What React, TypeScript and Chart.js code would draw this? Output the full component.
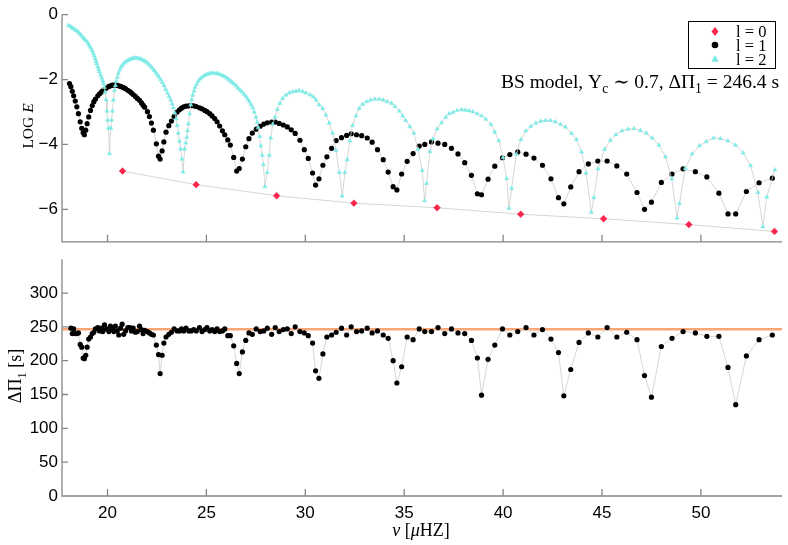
import { useEffect, useRef } from "react";
import { Chart, registerables, type ChartConfiguration, type Plugin } from "chart.js";

Chart.register(...registerables);

// fonts and colours
const SANS = "'Liberation Sans', Arial, Helvetica, sans-serif";
const SERIF = "'Liberation Serif', 'DejaVu Serif', 'Times New Roman', serif";
const AXIS = "#858585";
const LINK = "#cbcbcb";
const RED = "#f7264f";
const CYAN = "#7eeae6";
const ORANGE = "#f8a676";

// axes
const X_MIN = 17.7;
const X_MAX = 54.1;
const X_TICKS = [20, 25, 30, 35, 40, 45, 50];
const E_TICKS = [-6, -4, -2, 0];
const DP_TICKS = [0, 50, 100, 150, 200, 250, 300];
const DP_MEAN = 246.4;

// l=0 modes
const NU0 = [20.76, 24.48, 28.55, 32.46, 36.66, 40.89, 45.08, 49.39, 53.72];
const LOGE0 = [-4.82, -5.24, -5.58, -5.81, -5.95, -6.15, -6.29, -6.47, -6.68];

// l=1 modes (frequency, log E)
const NU1 = [
  18.08, 18.15, 18.22, 18.29, 18.37, 18.45, 18.53, 18.62, 18.70, 18.77,
  18.83, 18.90, 18.97, 19.05, 19.14, 19.23, 19.31, 19.39, 19.51, 19.60,
  19.70, 19.76, 19.85, 19.95, 20.07, 20.15, 20.24, 20.32, 20.40, 20.49,
  20.57, 20.66, 20.74, 20.82, 20.91, 21.03, 21.13, 21.21, 21.30, 21.41,
  21.51, 21.62, 21.72, 21.80, 21.88, 22.02, 22.12, 22.22, 22.32, 22.47,
  22.58, 22.66, 22.76, 22.85, 22.96, 23.10, 23.23, 23.37, 23.52, 23.64,
  23.74, 23.85, 23.97, 24.11, 24.23, 24.36, 24.49, 24.65, 24.78, 24.92,
  25.03, 25.17, 25.29, 25.42, 25.54, 25.67, 25.81, 25.93, 26.08, 26.21,
  26.38, 26.53, 26.66, 26.82, 26.99, 27.15, 27.32, 27.52, 27.72, 27.90,
  28.08, 28.30, 28.48, 28.68, 28.89, 29.09, 29.29, 29.49, 29.73, 29.95,
  30.15, 30.37, 30.52, 30.69, 30.89, 31.09, 31.33, 31.56, 31.83, 32.09,
  32.32, 32.59, 32.85, 33.13, 33.38, 33.65, 33.94, 34.19, 34.44, 34.63,
  34.87, 35.15, 35.45, 35.76, 36.04, 36.38, 36.71, 37.05, 37.39, 37.72,
  38.06, 38.40, 38.70, 38.91, 39.24, 39.58, 39.97, 40.34, 40.74, 41.16,
  41.56, 41.99, 42.42, 42.80, 43.07, 43.42, 43.84, 44.31, 44.79, 45.26,
  45.75, 46.25, 46.77, 47.15, 47.50, 48.00, 48.54, 49.10, 49.72, 50.30,
  50.91, 51.37, 51.76, 52.30, 52.94, 53.61,
];
const LOGE1 = [
  -2.12, -2.22, -2.36, -2.50, -2.66, -2.84, -3.05, -3.30, -3.50, -3.64,
  -3.70, -3.56, -3.36, -3.15, -2.95, -2.80, -2.68, -2.60, -2.50, -2.44,
  -2.38, -2.35, -2.30, -2.26, -2.21, -2.19, -2.17, -2.17, -2.17, -2.18,
  -2.19, -2.21, -2.23, -2.25, -2.28, -2.33, -2.37, -2.41, -2.46, -2.52,
  -2.58, -2.64, -2.72, -2.79, -2.85, -2.99, -3.14, -3.34, -3.56, -3.98,
  -4.36, -4.45, -4.20, -3.92, -3.62, -3.42, -3.28, -3.13, -3.00, -2.93,
  -2.88, -2.84, -2.82, -2.81, -2.80, -2.81, -2.83, -2.87, -2.90, -2.95,
  -2.99, -3.05, -3.12, -3.20, -3.30, -3.43, -3.58, -3.70, -3.86, -4.02,
  -4.40, -4.82, -4.74, -4.45, -4.07, -3.82, -3.65, -3.53, -3.44, -3.37,
  -3.33, -3.31, -3.31, -3.35, -3.40, -3.46, -3.55, -3.66, -3.87, -4.16,
  -4.43, -4.88, -5.25, -5.06, -4.64, -4.38, -4.12, -3.88, -3.79, -3.72,
  -3.67, -3.70, -3.73, -3.80, -3.93, -4.16, -4.47, -4.85, -5.30, -5.40,
  -4.91, -4.52, -4.28, -4.05, -4.00, -3.92, -3.96, -4.00, -4.12, -4.29,
  -4.56, -4.95, -5.52, -5.55, -5.07, -4.67, -4.41, -4.31, -4.23, -4.30,
  -4.42, -4.64, -5.06, -5.64, -5.83, -5.31, -4.84, -4.60, -4.51, -4.51,
  -4.66, -4.91, -5.48, -6.00, -5.78, -5.17, -4.91, -4.75, -4.84, -5.00,
  -5.50, -6.14, -6.14, -5.45, -5.18, -5.04,
];
// period spacing, one value per l=1 mode from NU1[1] on
const DP1 = [
  248, 240, 247, 240, 240, 241, 224, 220, 204, 203,
  208, 220, 232, 235, 240, 242, 247, 249, 244, 248,
  243, 253, 247, 243, 251, 247, 243, 251, 244, 238,
  248, 254, 239, 244, 249, 249, 244, 248, 242, 243,
  251, 246, 240, 245, 243, 241, 239, 238, 223, 209,
  181, 208, 226, 235, 239, 242, 247, 244, 244, 247,
  244, 248, 244, 244, 246, 244, 249, 243, 246, 249,
  244, 246, 243, 247, 243, 244, 247, 237, 237, 222,
  196, 181, 213, 230, 241, 239, 247, 243, 244, 248,
  239, 249, 243, 246, 247, 240, 250, 243, 241, 237,
  226, 185, 174, 210, 235, 238, 242, 248, 238, 250,
  243, 244, 248, 241, 244, 238, 233, 200, 167, 191,
  235, 231, 247, 243, 243, 249, 240, 247, 241, 240,
  230, 204, 149, 202, 223, 247, 238, 243, 249, 238,
  246, 232, 212, 148, 187, 227, 241, 235, 249, 235,
  242, 231, 178, 146, 221, 233, 243, 241, 236, 236,
  190, 135, 207, 231, 238,
];

// l=2 modes
const NU2 = [
  18.03, 18.12, 18.20, 18.28, 18.37, 18.45, 18.53, 18.61, 18.68, 18.75,
  18.82, 18.89, 18.96, 19.03, 19.10, 19.16, 19.22, 19.28, 19.33, 19.38,
  19.42, 19.46, 19.51, 19.55, 19.59, 19.65, 19.71, 19.76, 19.80, 19.84,
  19.88, 19.93, 19.97, 20.01, 20.05, 20.10, 20.17, 20.21, 20.25, 20.30,
  20.35, 20.40, 20.44, 20.50, 20.55, 20.62, 20.69, 20.76, 20.84, 20.92,
  21.01, 21.09, 21.18, 21.26, 21.35, 21.43, 21.51, 21.60, 21.68, 21.76,
  21.85, 21.93, 22.02, 22.10, 22.19, 22.27, 22.36, 22.44, 22.52, 22.60,
  22.69, 22.77, 22.86, 22.94, 23.03, 23.11, 23.20, 23.27, 23.33, 23.40,
  23.47, 23.53, 23.58, 23.64, 23.70, 23.76, 23.82, 23.90, 23.96, 24.01,
  24.05, 24.09, 24.15, 24.21, 24.26, 24.31, 24.37, 24.43, 24.51, 24.59,
  24.68, 24.77, 24.88, 24.98, 25.08, 25.18, 25.29, 25.39, 25.50, 25.60,
  25.71, 25.83, 25.93, 26.03, 26.13, 26.23, 26.31, 26.40, 26.50, 26.60,
  26.70, 26.80, 26.90, 27.00, 27.09, 27.17, 27.26, 27.34, 27.42, 27.51,
  27.57, 27.62, 27.69, 27.75, 27.82, 27.88, 27.96, 28.08, 28.18, 28.25,
  28.35, 28.47, 28.58, 28.72, 28.86, 29.02, 29.19, 29.36, 29.53, 29.69,
  29.87, 30.03, 30.24, 30.40, 30.54, 30.70, 30.88, 31.04, 31.21, 31.38,
  31.55, 31.72, 31.87, 32.00, 32.12, 32.25, 32.39, 32.56, 32.72, 32.90,
  33.10, 33.30, 33.52, 33.74, 33.94, 34.14, 34.36, 34.53, 34.75, 34.92,
  35.08, 35.29, 35.49, 35.70, 35.91, 36.03, 36.13, 36.30, 36.46, 36.66,
  36.89, 37.10, 37.27, 37.47, 37.67, 37.90, 38.10, 38.28, 38.48, 38.69,
  38.91, 39.12, 39.38, 39.58, 39.78, 40.00, 40.18, 40.30, 40.43, 40.67,
  40.90, 41.15, 41.40, 41.65, 41.90, 42.14, 42.39, 42.64, 42.90, 43.15,
  43.46, 43.71, 43.97, 44.20, 44.46, 44.59, 44.80, 45.13, 45.42, 45.70,
  46.01, 46.31, 46.61, 46.94, 47.24, 47.54, 47.88, 48.21, 48.53, 48.79,
  48.92, 49.21, 49.56, 49.93, 50.27, 50.64, 50.99, 51.36, 51.75, 52.14,
  52.51, 52.88, 53.13, 53.33, 53.74,
];
const LOGE2 = [
  -0.33, -0.36, -0.40, -0.43, -0.47, -0.50, -0.54, -0.59, -0.64, -0.69,
  -0.74, -0.78, -0.83, -0.90, -0.97, -1.03, -1.11, -1.19, -1.27, -1.36,
  -1.44, -1.51, -1.60, -1.68, -1.76, -1.86, -1.95, -2.04, -2.12, -2.24,
  -2.39, -2.62, -2.97, -3.25, -3.50, -4.28, -3.50, -3.25, -2.97, -2.63,
  -2.34, -2.18, -2.05, -1.93, -1.81, -1.70, -1.61, -1.55, -1.49, -1.45,
  -1.42, -1.39, -1.37, -1.35, -1.34, -1.33, -1.34, -1.35, -1.37, -1.39,
  -1.42, -1.45, -1.49, -1.54, -1.59, -1.65, -1.71, -1.78, -1.85, -1.92,
  -2.00, -2.09, -2.19, -2.30, -2.41, -2.52, -2.63, -2.75, -2.87, -3.03,
  -3.21, -3.42, -3.65, -3.90, -4.14, -4.45, -4.85, -4.14, -3.95, -3.78,
  -3.58, -3.36, -3.05, -2.78, -2.62, -2.48, -2.35, -2.24, -2.14, -2.05,
  -1.98, -1.93, -1.88, -1.85, -1.83, -1.81, -1.80, -1.81, -1.81, -1.82,
  -1.85, -1.88, -1.91, -1.95, -2.00, -2.05, -2.09, -2.13, -2.19, -2.26,
  -2.32, -2.38, -2.45, -2.52, -2.60, -2.68, -2.77, -2.87, -3.00, -3.16,
  -3.32, -3.48, -3.75, -4.04, -4.33, -4.62, -5.30, -4.86, -4.33, -3.80,
  -3.38, -3.16, -2.92, -2.73, -2.58, -2.48, -2.41, -2.37, -2.36, -2.34,
  -2.37, -2.41, -2.47, -2.53, -2.63, -2.78, -2.89, -3.09, -3.34, -3.65,
  -4.18, -4.86, -5.59, -4.86, -4.47, -3.89, -3.41, -3.12, -2.89, -2.76,
  -2.68, -2.63, -2.60, -2.60, -2.63, -2.68, -2.73, -2.83, -2.97, -3.12,
  -3.26, -3.45, -3.65, -4.15, -4.80, -5.73, -5.20, -4.22, -3.83, -3.52,
  -3.33, -3.16, -3.05, -3.01, -2.95, -2.93, -2.94, -2.96, -2.99, -3.05,
  -3.12, -3.22, -3.38, -3.62, -3.88, -4.40, -5.05, -5.97, -5.35, -4.30,
  -3.85, -3.58, -3.44, -3.34, -3.28, -3.26, -3.26, -3.30, -3.38, -3.46,
  -3.66, -3.85, -4.23, -4.88, -6.09, -5.64, -4.75, -4.15, -3.87, -3.70,
  -3.58, -3.53, -3.51, -3.57, -3.65, -3.80, -4.02, -4.38, -5.06, -6.27,
  -5.81, -4.74, -4.29, -4.04, -3.91, -3.80, -3.82, -3.89, -4.02, -4.26,
  -4.65, -5.48, -6.54, -5.62, -4.78,
];

type Run = { t: string; it?: boolean; sub?: boolean };

// draws a line of mixed upright / italic / subscript text
function rich(ctx: CanvasRenderingContext2D, runs: Run[], x: number, y: number, size: number, align: "left" | "center" | "right") {
  const fontOf = (r: Run) => `${r.it ? "italic " : ""}${r.sub ? size * 0.7 : size}px ${SERIF}`;
  let total = 0;
  for (const r of runs) {
    ctx.font = fontOf(r);
    total += ctx.measureText(r.t).width;
  }
  let cx = align === "left" ? x : align === "center" ? x - total / 2 : x - total;
  ctx.textAlign = "left";
  ctx.textBaseline = "alphabetic";
  for (const r of runs) {
    ctx.font = fontOf(r);
    ctx.fillText(r.t, cx, r.sub ? y + size * 0.25 : y);
    cx += ctx.measureText(r.t).width;
  }
}

// left + bottom axis lines with inward ticks
const frame = (yTicks: number[]): Plugin<"scatter"> => ({
  id: "frame",
  afterDraw(chart) {
    const { ctx, chartArea: a } = chart;
    const xs = chart.scales.x;
    const ys = chart.scales.y;
    ctx.save();
    ctx.strokeStyle = AXIS;
    ctx.lineWidth = 1.3;
    ctx.beginPath();
    ctx.moveTo(a.left, a.top);
    ctx.lineTo(a.left, a.bottom);
    ctx.lineTo(a.right, a.bottom);
    for (const v of yTicks) {
      const p = ys.getPixelForValue(v);
      ctx.moveTo(a.left, p);
      ctx.lineTo(a.left + 6, p);
    }
    for (const v of X_TICKS) {
      const p = xs.getPixelForValue(v);
      ctx.moveTo(p, a.bottom);
      ctx.lineTo(p, a.bottom - 7);
    }
    ctx.stroke();
    ctx.restore();
  },
});

const topDecor: Plugin<"scatter"> = {
  id: "topDecor",
  afterDraw(chart) {
    const ctx = chart.ctx;
    ctx.save();
    // legend box
    ctx.strokeStyle = "#000";
    ctx.lineWidth = 1;
    ctx.strokeRect(688.5, 21.5, 87, 47);
    const mx = 715;
    const rows = [31.5, 45, 59];
    ctx.fillStyle = RED;
    ctx.beginPath();
    ctx.moveTo(mx, rows[0] - 4.5);
    ctx.lineTo(mx + 3.5, rows[0]);
    ctx.lineTo(mx, rows[0] + 4.5);
    ctx.lineTo(mx - 3.5, rows[0]);
    ctx.closePath();
    ctx.fill();
    ctx.fillStyle = "#000";
    ctx.beginPath();
    ctx.arc(mx, rows[1], 3.3, 0, Math.PI * 2);
    ctx.fill();
    ctx.fillStyle = CYAN;
    ctx.beginPath();
    ctx.moveTo(mx, rows[2] - 4);
    ctx.lineTo(mx + 3.8, rows[2] + 2.8);
    ctx.lineTo(mx - 3.8, rows[2] + 2.8);
    ctx.closePath();
    ctx.fill();
    ctx.fillStyle = "#000";
    ["l = 0", "l = 1", "l = 2"].forEach((t, i) => rich(ctx, [{ t }], 736, rows[i] + 5.5, 16.5, "left"));

    rich(
      ctx,
      [
        { t: "BS model, Y" },
        { t: "c", sub: true },
        { t: " \u223C 0.7, \u0394\u03A0" },
        { t: "1", sub: true },
        { t: " = 246.4 s" },
      ],
      779,
      88,
      19.5,
      "right",
    );

    ctx.translate(33, 126);
    ctx.rotate(-Math.PI / 2);
    rich(ctx, [{ t: "LOG " }, { t: "E", it: true }], 0, 0, 15.5, "center");
    ctx.restore();
  },
};

const bottomDecor: Plugin<"scatter"> = {
  id: "bottomDecor",
  afterDraw(chart) {
    const ctx = chart.ctx;
    ctx.save();
    ctx.fillStyle = "#000";
    rich(ctx, [{ t: "\u03BD", it: true }, { t: " [" }, { t: "\u03BC", it: true }, { t: "HZ]" }], 421, 291, 18, "center");
    ctx.translate(21, 131);
    ctx.rotate(-Math.PI / 2);
    rich(ctx, [{ t: "\u0394\u03A0" }, { t: "1", sub: true }, { t: " [s]" }], 0, 0, 18, "center");
    ctx.restore();
  },
};

const fmt = (v: number | string) => {
  const n = Number(v);
  return n < 0 ? "\u2212" + Math.abs(n) : String(n);
};

const tickFont = { family: SANS, size: 17 };

const topConfig: ChartConfiguration<"scatter"> = {
  type: "scatter",
  data: {
    datasets: [
      {
        data: NU2.map((x, i) => ({ x, y: LOGE2[i] })),
        showLine: true,
        borderColor: LINK,
        borderWidth: 0.8,
        pointStyle: "triangle",
        pointRadius: 2.4,
        pointBackgroundColor: CYAN,
        pointBorderColor: CYAN,
        pointBorderWidth: 0.5,
      },
      {
        data: NU1.map((x, i) => ({ x, y: LOGE1[i] })),
        showLine: true,
        borderColor: LINK,
        borderWidth: 0.8,
        pointStyle: "circle",
        pointRadius: 2.6,
        pointBackgroundColor: "#000",
        pointBorderColor: "#000",
        pointBorderWidth: 0,
      },
      {
        data: NU0.map((x, i) => ({ x, y: LOGE0[i] })),
        showLine: true,
        borderColor: LINK,
        borderWidth: 0.8,
        pointStyle: "rectRot",
        pointRadius: 3.4,
        pointBackgroundColor: RED,
        pointBorderColor: RED,
        pointBorderWidth: 0.5,
      },
    ],
  },
  options: {
    animation: false,
    responsive: false,
    events: [],
    layout: { padding: { left: 0, right: 6, top: 14.7, bottom: 1 } },
    plugins: { legend: { display: false }, tooltip: { enabled: false } },
    scales: {
      x: { type: "linear", min: X_MIN, max: X_MAX, display: false },
      y: {
        type: "linear",
        min: -7,
        max: 0,
        afterFit: (s) => {
          s.width = 62;
        },
        afterBuildTicks: (s) => {
          s.ticks = E_TICKS.map((value) => ({ value }));
        },
        grid: { display: false, drawTicks: false },
        border: { display: false },
        ticks: { padding: 4, color: "#000", font: tickFont, callback: fmt },
      },
    },
  },
  plugins: [frame(E_TICKS), topDecor],
};

const bottomConfig: ChartConfiguration<"scatter"> = {
  type: "scatter",
  data: {
    datasets: [
      {
        data: DP1.map((y, i) => ({ x: NU1[i + 1], y })),
        showLine: true,
        borderColor: LINK,
        borderWidth: 0.8,
        pointStyle: "circle",
        pointRadius: 2.6,
        pointBackgroundColor: "#000",
        pointBorderColor: "#000",
        pointBorderWidth: 0,
      },
      {
        data: [
          { x: X_MIN, y: DP_MEAN },
          { x: X_MAX, y: DP_MEAN },
        ],
        showLine: true,
        borderColor: ORANGE,
        borderWidth: 2.4,
        pointRadius: 0,
      },
    ],
  },
  options: {
    animation: false,
    responsive: false,
    events: [],
    layout: { padding: { left: 0, right: 6, top: 10, bottom: 0 } },
    plugins: { legend: { display: false }, tooltip: { enabled: false } },
    scales: {
      x: {
        type: "linear",
        min: X_MIN,
        max: X_MAX,
        afterFit: (s) => {
          s.height = 49;
        },
        afterBuildTicks: (s) => {
          s.ticks = X_TICKS.map((value) => ({ value }));
        },
        grid: { display: false, drawTicks: false },
        border: { display: false },
        ticks: { padding: 7, color: "#000", font: tickFont, maxRotation: 0, callback: fmt },
      },
      y: {
        type: "linear",
        min: 0,
        max: 350,
        afterFit: (s) => {
          s.width = 62;
        },
        afterBuildTicks: (s) => {
          s.ticks = DP_TICKS.map((value) => ({ value }));
        },
        grid: { display: false, drawTicks: false },
        border: { display: false },
        ticks: { padding: 4, color: "#000", font: tickFont, callback: fmt },
      },
    },
  },
  plugins: [frame(DP_TICKS), bottomDecor],
};

function Panel({ config, top, height }: { config: ChartConfiguration<"scatter">; top: number; height: number }) {
  const ref = useRef<HTMLCanvasElement>(null);
  useEffect(() => {
    if (!ref.current) return;
    const chart = new Chart(ref.current, config);
    return () => chart.destroy();
  }, [config]);
  return <canvas ref={ref} width={788} height={height} style={{ position: "absolute", left: 0, top }} />;
}

export default function App() {
  return (
    <div style={{ position: "fixed", left: 0, top: 0, width: 788, height: 545, background: "#fff" }}>
      <Panel config={topConfig} top={0} height={256} />
      <Panel config={bottomConfig} top={245} height={300} />
    </div>
  );
}
